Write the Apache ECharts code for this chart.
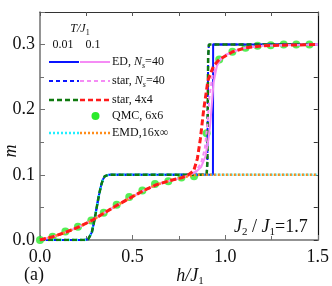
<!DOCTYPE html>
<html><head><meta charset="utf-8">
<script src="https://cdn.jsdelivr.net/npm/echarts@6/dist/echarts.min.js"></script>
<style>html,body{margin:0;padding:0;background:#fff}#c{width:332px;height:286px}</style>
</head><body><div id="c"></div>
<script>
// ---- data ----
var xTicks = [0.0, 0.5, 1.0, 1.5];
var yTicks = [0.0, 0.1, 0.2, 0.3];

// low temperature (T/J1 = 0.01)
var edLowX   = [0, 0.24, 0.26, 0.27, 0.28, 0.29, 0.30, 0.31, 0.32, 0.33, 0.34, 0.35, 0.37, 0.40, 0.934, 0.935, 1.5];
var edLowY   = [0, 0, 0.001, 0.004, 0.012, 0.025, 0.040, 0.056, 0.071, 0.084, 0.093, 0.098, 0.1, 0.1, 0.1, 0.3, 0.3];
var starLowX = [0, 0.24, 0.26, 0.27, 0.28, 0.29, 0.30, 0.31, 0.32, 0.33, 0.34, 0.35, 0.37, 0.40, 0.90, 0.904, 0.906, 0.908, 0.912, 1.5];
var starLowY = [0, 0, 0.001, 0.004, 0.012, 0.025, 0.040, 0.056, 0.071, 0.084, 0.093, 0.098, 0.1, 0.1, 0.1, 0.12, 0.2, 0.28, 0.3, 0.3];
var s44LowX  = [0, 0.24, 0.26, 0.27, 0.28, 0.29, 0.30, 0.31, 0.32, 0.33, 0.34, 0.35, 0.37, 0.40, 0.90, 0.904, 0.906, 0.908, 0.912, 1.5];
var s44LowY  = [0, 0, 0.001, 0.004, 0.012, 0.025, 0.040, 0.056, 0.071, 0.084, 0.093, 0.098, 0.1, 0.1, 0.1, 0.12, 0.2, 0.28, 0.3, 0.3];
var emdLowX  = [0, 0.24, 0.26, 0.27, 0.28, 0.29, 0.30, 0.31, 0.32, 0.33, 0.34, 0.35, 0.37, 0.40, 1.5];
var emdLowY  = [0, 0, 0.001, 0.004, 0.012, 0.025, 0.040, 0.056, 0.071, 0.084, 0.093, 0.098, 0.1, 0.1, 0.1];

// high temperature (T/J1 = 0.1)
var edHighX   = [0, 0.07, 0.14, 0.21, 0.28, 0.35, 0.42, 0.49, 0.56, 0.63, 0.70, 0.77, 0.80, 0.84, 0.87, 0.893, 0.91, 0.92, 0.93, 0.937, 0.955, 0.98, 1.04, 1.11, 1.2, 1.3, 1.5];
var edHighY   = [0, 0.005, 0.012, 0.020, 0.030, 0.042, 0.054, 0.065, 0.076, 0.085, 0.091, 0.096, 0.099, 0.104, 0.112, 0.128, 0.155, 0.18, 0.215, 0.241, 0.267, 0.280, 0.289, 0.295, 0.298, 0.299, 0.3];
var starHighX = [0, 0.07, 0.14, 0.21, 0.28, 0.35, 0.42, 0.49, 0.56, 0.63, 0.70, 0.77, 0.80, 0.84, 0.87, 0.89, 0.905, 0.915, 0.93, 0.955, 1.0, 1.04, 1.11, 1.2, 1.3, 1.5];
var starHighY = [0, 0.005, 0.012, 0.020, 0.030, 0.042, 0.054, 0.065, 0.076, 0.085, 0.091, 0.096, 0.099, 0.105, 0.118, 0.14, 0.18, 0.22, 0.25, 0.27, 0.284, 0.289, 0.295, 0.298, 0.299, 0.3];
var s44HighX  = [0, 0.07, 0.14, 0.21, 0.28, 0.35, 0.42, 0.49, 0.56, 0.63, 0.70, 0.77, 0.80, 0.83, 0.85, 0.866, 0.884, 0.907, 0.937, 0.968, 1.04, 1.11, 1.2, 1.3, 1.5];
var s44HighY  = [0, 0.005, 0.012, 0.020, 0.030, 0.042, 0.054, 0.065, 0.076, 0.085, 0.091, 0.096, 0.1, 0.106, 0.125, 0.155, 0.20, 0.245, 0.267, 0.277, 0.289, 0.295, 0.298, 0.299, 0.3];
var emdHighX  = [0, 0.07, 0.14, 0.21, 0.28, 0.35, 0.42, 0.49, 0.56, 0.63, 0.70, 0.77, 0.82, 0.86, 1.5];
var emdHighY  = [0, 0.005, 0.012, 0.020, 0.030, 0.042, 0.054, 0.065, 0.076, 0.085, 0.091, 0.096, 0.099, 0.1, 0.1];

// QMC 6x6
var qmcX = [0, 0.068, 0.137, 0.205, 0.277, 0.344, 0.414, 0.482, 0.553, 0.621, 0.693, 0.764, 0.832, 0.90, 0.968, 1.039, 1.11, 1.175, 1.246, 1.316, 1.384, 1.455];
var qmcY = [0, 0.005, 0.013, 0.0205, 0.030, 0.042, 0.054, 0.066, 0.076, 0.086, 0.090, 0.096, 0.098, 0.164, 0.277, 0.289, 0.295, 0.298, 0.299, 0.300, 0.300, 0.300];

// ---- chart ----
function pairs(xs, ys){ return xs.map(function(x,i){ return [x, ys[i]]; }); }
var FONT = '"Liberation Serif", "Times New Roman", serif';
var C = {blue:'#0a14ff', pink:'#f58cf5', green:'#0f7a0f', red:'#ff1a1a', qmc:'#2bea2b', cyan:'#22eeff', orange:'#ff8c1a'};

function lineS(name, xs, ys, color, type, width, dash){
  return {name:name, type:'line', data:pairs(xs, ys), showSymbol:false, symbol:'none', silent:true,
    lineStyle:{color:color, width:width, type: dash || type}, animation:false};
}

var series = [
  lineS('ED 0.01', edLowX, edLowY, C.blue, 'solid', 2),
  lineS('star 0.01', starLowX, starLowY, C.blue, 'dashed', 2, [4,3]),
  lineS('EMD 0.01', emdLowX, emdLowY, C.cyan, 'dotted', 2.5, [2,2]),
  lineS('star4x4 0.01', s44LowX, s44LowY, C.green, 'dashed', 2.5, [5,3]),
  lineS('ED 0.1', edHighX, edHighY, C.pink, 'solid', 2),
  lineS('star 0.1', starHighX, starHighY, C.pink, 'dashed', 2, [4,3]),
  lineS('EMD 0.1', emdHighX, emdHighY, C.orange, 'dotted', 2.5, [2,2]),
  lineS('star4x4 0.1', s44HighX, s44HighY, C.red, 'dashed', 3, [6,3]),
  {name:'QMC', type:'scatter', data:pairs(qmcX, qmcY), symbol:'circle', symbolSize:8,
   itemStyle:{color:C.qmc}, animation:false, silent:true}
];

var axisGray = '#707070';
var option = {
  backgroundColor:'#fff',
  animation:false,
  grid:{left:40, top:12, width:281, height:228, containLabel:false},
  xAxis:[
    {type:'value', min:0, max:1.5, interval:0.5, position:'bottom',
     axisLine:{show:true, onZero:false, lineStyle:{color:axisGray, width:1.5}},
     axisTick:{show:true, inside:true, length:5, lineStyle:{color:axisGray}},
     minorTick:{show:true, splitNumber:2, length:4, lineStyle:{color:axisGray}},
     splitLine:{show:false},
     axisLabel:{color:'#111', fontFamily:FONT, fontSize:18, margin:8,
       formatter:function(v){ return xTicks.indexOf(v)>=0 ? v.toFixed(1) : ''; }}},
    {type:'value', min:0, max:1.5, interval:0.25, position:'top',
     axisLine:{show:true, onZero:false, lineStyle:{color:'#333', width:1}},
     axisTick:{show:true, inside:true, length:4, lineStyle:{color:'#555'}},
     axisLabel:{show:false}, splitLine:{show:false}}
  ],
  yAxis:[
    {type:'value', min:0, max:0.35, interval:0.1, position:'left',
     axisLine:{show:true, onZero:false, lineStyle:{color:axisGray, width:1.5}},
     axisTick:{show:true, inside:true, length:5, lineStyle:{color:axisGray}},
     minorTick:{show:true, splitNumber:2, length:4, lineStyle:{color:axisGray}},
     splitLine:{show:false},
     axisLabel:{color:'#111', fontFamily:FONT, fontSize:18, margin:5,
       formatter:function(v){ return yTicks.some(function(t){return Math.abs(t-v)<1e-9;}) ? v.toFixed(1) : ''; }}},
    {type:'value', min:0, max:0.35, interval:0.05, position:'right',
     axisLine:{show:true, onZero:false, lineStyle:{color:'#111', width:1.2}},
     axisTick:{show:true, inside:true, length:4, lineStyle:{color:'#333'}},
     axisLabel:{show:false}, splitLine:{show:false}}
  ],
  series: series,
  graphic: []
};

// legend (custom, two-column line samples)
var rich = {
  n:{fontFamily:FONT, fontSize:12, color:'#111'},
  i:{fontFamily:FONT, fontSize:12, fontStyle:'italic', color:'#111'},
  sub:{fontFamily:FONT, fontSize:8, fontStyle:'italic', color:'#111', padding:[7,0,0,0]},
  subn:{fontFamily:FONT, fontSize:8, color:'#111', padding:[7,0,0,0]},
  bi:{fontFamily:FONT, fontSize:18, fontStyle:'italic', color:'#111'},
  bn:{fontFamily:FONT, fontSize:18, color:'#111'},
  bsub:{fontFamily:FONT, fontSize:11, color:'#111', padding:[10,0,0,0]}
};
function txt(x, y, t, align, vAlign, rot){
  return {type:'text', left:null, x:x, y:y, rotation:rot||0, z:100,
    style:{text:t, rich:rich, align:align||'left', verticalAlign:vAlign||'middle', fill:'#111'}};
}
function seg(x1, x2, y, color, width, dash){
  return {type:'line', z:100, shape:{x1:x1, y1:y, x2:x2, y2:y},
    style:{stroke:color, lineWidth:width, lineDash:dash||null}};
}
var legendRows = [
  {y:62,  c1:C.blue,  c2:C.pink,   w:2,   dash:null,  label:'{n|ED, }{i|N}{sub|s}{n|=40}'},
  {y:81,  c1:C.blue,  c2:C.pink,   w:2,   dash:[4,3], label:'{n|star, }{i|N}{sub|s}{n|=40}'},
  {y:100, c1:C.green, c2:C.red,    w:2.5, dash:[5,3], label:'{n|star, 4x4}'},
  {y:133, c1:C.cyan,  c2:C.orange, w:2.5, dash:[2,2], label:'{n|EMD,16x∞}'}
];
var g = option.graphic;
g.push(txt(80, 29, '{i|T/J}{subn|1}', 'center'));
g.push(txt(63, 45, '{n|0.01}', 'center'));
g.push(txt(93, 45, '{n|0.1}', 'center'));
legendRows.forEach(function(r){
  g.push(seg(49, 79, r.y, r.c1, r.w, r.dash));
  g.push(seg(80, 110, r.y, r.c2, r.w, r.dash));
  g.push(txt(112, r.y, r.label, 'left'));
});
g.push({type:'circle', z:100, shape:{cx:95.5, cy:116, r:4}, style:{fill:C.qmc}});
g.push(txt(112, 116, '{n|QMC, 6x6}', 'left'));

// annotations
g.push(txt(234, 227, '{bi|J}{bsub|2}{bn| / }{bi|J}{bsub|1}{bn|=1.7}', 'left'));
g.push(txt(34, 275, '{bn|(a)}', 'center'));
g.push(txt(190, 276, '{bi|h/J}{bsub|1}', 'center'));
g.push(txt(11, 151, '{bi|m}', 'center', 'middle', Math.PI/2));

var chart = echarts.init(document.getElementById('c'), null, {renderer:'canvas'});
chart.setOption(option);
</script>
</body></html>
